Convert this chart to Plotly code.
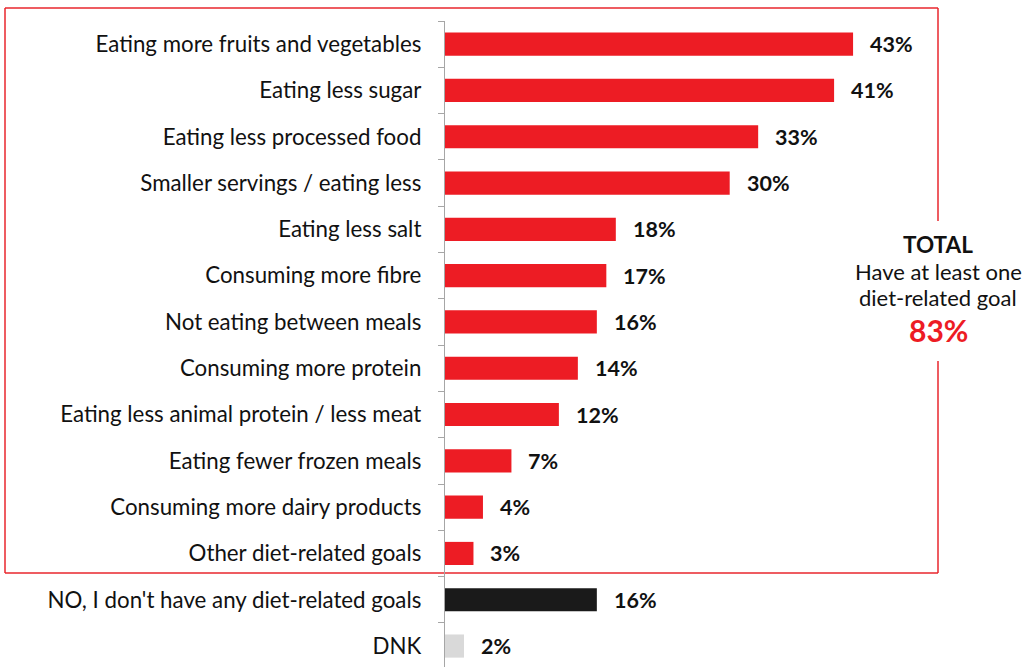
import plotly.graph_objects as go

categories = [
    "Eating more fruits and vegetables",
    "Eating less sugar",
    "Eating less processed food",
    "Smaller servings / eating less",
    "Eating less salt",
    "Consuming more fibre",
    "Not eating between meals",
    "Consuming more protein",
    "Eating less animal protein / less meat",
    "Eating fewer frozen meals",
    "Consuming more dairy products",
    "Other diet-related goals",
    "NO, I don't have any diet-related goals",
    "DNK",
]
values = [43, 41, 33, 30, 18, 17, 16, 14, 12, 7, 4, 3, 16, 2]
bar_colors = ["#ED1C24"] * 12 + ["#1A1A1A", "#D9D9D9"]

total_title = "TOTAL"
total_text = ["Have at least one", "diet-related goal"]
total_value = "83%"

FONT = "Lato"
W, H = 1032, 667
ML, MT = 445, 21
PW, PH = W - ML, H - MT
PX_PER_PCT = 9.49
ROW_PX = 46.3

pos = list(range(len(categories)))
x_max = PW / PX_PER_PCT
y_bottom = -0.5 + PH / ROW_PX

fig = go.Figure()
fig.add_trace(go.Bar(
    x=values, y=pos, orientation="h",
    marker=dict(color=bar_colors, line=dict(width=0)),
    width=0.5, hoverinfo="skip",
))

for v, p in zip(values, pos):
    fig.add_annotation(
        x=v, y=p, xref="x", yref="y", text=f"<b>{v}%</b>",
        showarrow=False, xanchor="left", yanchor="middle", xshift=15,
        font=dict(family=FONT, size=21.5, color="#111111"),
    )


def px_x(px):
    return (px - ML) / PW


def px_y(py):
    return 1 - (py - MT) / PH


# frame around the goal answers, open on the right around the total note
red = "#E8262D"
box_l, box_r, box_t, box_b = 5, 938, 8, 573
gap_t, gap_b = 221, 361
segments = [
    (box_l, box_t, box_r, box_t),
    (box_l, box_t, box_l, box_b),
    (box_l, box_b, box_r, box_b),
    (box_r, box_t, box_r, gap_t),
    (box_r, gap_b, box_r, box_b),
]
for x0, y0, x1, y1 in segments:
    fig.add_shape(type="line", xref="paper", yref="paper",
                  x0=px_x(x0), y0=px_y(y0), x1=px_x(x1), y1=px_y(y1),
                  line=dict(color=red, width=1.5), layer="below")

cx = px_x(938)
fig.add_annotation(xref="paper", yref="paper", x=cx, y=px_y(244),
                   text=f"<b>{total_title}</b>", showarrow=False,
                   xanchor="center", yanchor="middle",
                   font=dict(family=FONT, size=22.5, color="#111111"))
for i, line in enumerate(total_text):
    fig.add_annotation(xref="paper", yref="paper", x=cx, y=px_y(271 + 26.6 * i),
                       text=line, showarrow=False,
                       xanchor="center", yanchor="middle",
                       font=dict(family=FONT, size=22, color="#111111"))
fig.add_annotation(xref="paper", yref="paper", x=cx, y=px_y(329.5),
                   text=f"<b>{total_value}</b>", showarrow=False,
                   xanchor="center", yanchor="middle",
                   font=dict(family=FONT, size=30, color="#ED1C24"))

fig.update_layout(
    width=W, height=H,
    margin=dict(l=ML, r=0, t=MT, b=0, pad=0),
    paper_bgcolor="white", plot_bgcolor="white",
    showlegend=False,
    bargap=0.5,
)
fig.update_xaxes(range=[0, x_max], visible=False, fixedrange=True)
fig.update_yaxes(
    range=[y_bottom, -0.5],
    tickvals=pos, ticktext=categories,
    ticks="", ticklabelstandoff=18,
    tickfont=dict(family=FONT, size=22.3, color="#111111"),
    showline=True, linecolor="#A6A6A6", linewidth=1.3,
    showgrid=False, zeroline=False, fixedrange=True,
    minor=dict(tickvals=[p - 0.5 for p in pos] + [len(pos) - 0.5],
               ticks="outside", ticklen=6, tickcolor="#A6A6A6", tickwidth=1.3,
               showgrid=False),
)

fig.write_html("out.html", config={"displayModeBar": False})
